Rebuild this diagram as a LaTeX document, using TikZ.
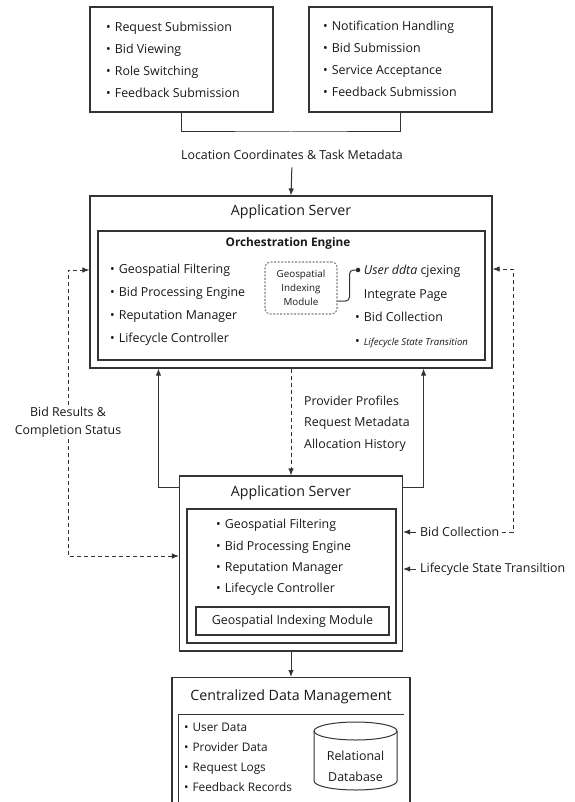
\documentclass[tikz,border=0pt]{standalone}
\usepackage{fontspec}
\setmainfont{Open Sans}
\usetikzlibrary{arrows.meta}
\newcommand{\bul}{\textbullet\hspace{4pt}}
\newcommand{\nobul}{\phantom{\textbullet}\hspace{4pt}}
\begin{document}
\begin{tikzpicture}[x=1pt,y=-1pt,font=\fontsize{12.4}{22}\selectfont,text=black!90]
\tikzstyle{box}=[draw=black!80,line width=1.1pt,inner sep=0pt]
\tikzstyle{txt}=[inner sep=0pt,align=left,anchor=west]
\tikzstyle{line}=[draw=black!80,line width=1pt]
\tikzstyle{flow}=[line,-{Latex[length=7pt,width=5.5pt]}]
\tikzstyle{feed}=[flow,dash pattern=on 4pt off 3pt]
\useasboundingbox (0,0) rectangle (574,802);
\clip (0,0) rectangle (574,802);
\node[box,minimum width=183pt,minimum height=105pt] (reqbox) at (181.5,59.5) {};
\node[txt] (reqlist) at (106,60) {\bul Request Submission\\\bul Bid Viewing\\\bul Role Switching\\\bul Feedback Submission};
\node[box,minimum width=183pt,minimum height=105pt] (provbox) at (400.5,59.5) {};
\node[txt] (provlist) at (323,59) {\bul Notification Handling\\\bul Bid Submission\\\bul Service Acceptance\\\bul Feedback Submission};
\coordinate (join) at (291,132);
\draw[line] (reqbox.south) |- (join) -| (provbox.south);
\node (locmeta) at (292,155) {Location Coordinates \& Task Metadata};
\node[box,minimum width=402pt,minimum height=172pt] (appserver) at (291,282) {};
\node[font=\fontsize{14.2}{16}\selectfont] (apptitle) at (291,212) {Application Server};
\node[box,minimum width=387pt,minimum height=129pt] (orch) at (291.5,295.5) {};
\node[font=\fontsize{11.8}{14}\selectfont\bfseries] (orchtitle) at (288,243) {Orchestration Engine};
\node[txt,font=\fontsize{12.4}{23}\selectfont] (orchleft) at (110,304.5) {\bul Geospatial Filtering\\\bul Bid Processing Engine\\\bul Reputation Manager\\\bul Lifecycle Controller};
\node[box,draw=black!50,dash pattern=on 2pt off 1.5pt,rounded corners=5pt,minimum width=72pt,minimum height=52pt,align=center,font=\fontsize{9.8}{14}\selectfont] (geomod) at (301,288) {Geospatial\\Indexing\\Module};
\node[circle,fill=black!85,inner sep=1.6pt] (udot) at (358,270) {};
\node[txt,font=\fontsize{12.4}{23.5}\selectfont] (orchright) at (355,306.5) {\nobul\textit{User ddta} cjexing\\\nobul Integrate Page\\\bul Bid Collection\\\bul{\fontsize{9.6}{10}\selectfont\itshape Lifecycle State Transition}};
\draw[line,rounded corners=4pt] ([yshift=-13pt]geomod.east) -- ++(12,0) |- (udot);
\draw[flow,shorten <=4pt] (locmeta.south) -- (appserver.north);
\node[box,minimum width=223pt,minimum height=175pt] (server2) at (291,563.5) {};
\node[font=\fontsize{14.2}{16}\selectfont] (s2title) at (291,493) {Application Server};
\node[box,minimum width=209pt,minimum height=134pt] (core2) at (291.5,576) {};
\node[txt,font=\fontsize{12.4}{21.2}\selectfont] (core2list) at (216,557.5) {\bul Geospatial Filtering\\\bul Bid Processing Engine\\\bul Reputation Manager\\\bul Lifecycle Controller};
\node[box,minimum width=193pt,minimum height=28pt] (geoindex) at (292.5,621) {Geospatial Indexing Module};
\draw[feed] (appserver.south) -- (server2.north);
\node[txt,font=\fontsize{12.4}{21.5}\selectfont] (history) at (304,423.5) {Provider Profiles\\Request Metadata\\Allocation History};
\draw[flow] ([yshift=-12pt]server2.north west) -| ([xshift=69pt]appserver.south west);
\draw[flow] ([yshift=-12pt]server2.north east) -| ([xshift=-69pt]appserver.south east);
\node[align=center,fill=white,inner sep=2pt,font=\fontsize{12.4}{18}\selectfont] (bidres) at (68,422) {Bid Results \&\\Completion Status};
\draw[feed] (bidres) |- ([yshift=12pt]appserver.west);
\draw[feed] (bidres) |- ([yshift=7.5pt]server2.west);
\node[txt] (bidcoll) at (420,532) {Bid Collection};
\draw[flow,shorten <=4pt] (bidcoll.west) -- (server2.east |- bidcoll.west);
\coordinate (rturn) at (513,269);
\draw[feed] ([xshift=3pt]bidcoll.east) -| (rturn) -- (appserver.east |- rturn);
\node[txt] (lcstate) at (420,569) {Lifecycle State Transiltion};
\draw[flow,shorten <=4pt] (lcstate.west) -- (server2.east |- lcstate.west);
\node[box,minimum width=238pt,minimum height=170pt,anchor=north] (datamgmt) at (291,677) {};
\draw[flow] (server2.south) -- (datamgmt.north);
\node[font=\fontsize{14.2}{16}\selectfont] (dmtitle) at (291,697) {Centralized Data Management};
\draw[line] ([xshift=7pt]datamgmt.south west) |- ([xshift=-7pt,yshift=-37pt]datamgmt.north east);
\node[txt,font=\fontsize{11.8}{20}\selectfont] (dmlist) at (184,757) {\bul User Data\\\bul Provider Data\\\bul Request Logs\\\bul Feedback Records};
\coordinate (dbtop) at (355.5,731);
\draw[line] (dbtop) ellipse [x radius=41.5pt,y radius=9pt];
\draw[line] ([xshift=-41.5pt]dbtop) -- ++(0,50) arc[start angle=180,end angle=360,x radius=41.5pt,y radius=9pt] -- ([xshift=41.5pt]dbtop);
\node[align=center,inner sep=0pt,font=\fontsize{12.4}{21}\selectfont] (reldb) at (355.5,766.5) {Relational\\Database};
\end{tikzpicture}
\end{document}
